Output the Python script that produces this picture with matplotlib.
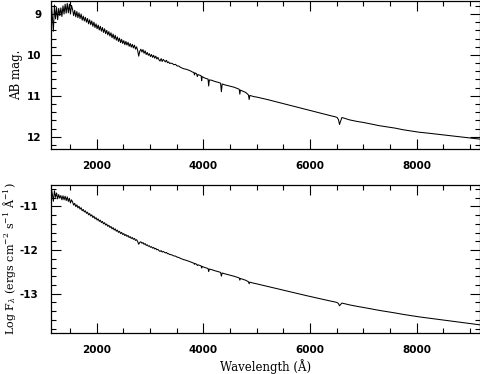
import numpy as np
import matplotlib
matplotlib.use('Agg')
import matplotlib.pyplot as plt
from matplotlib.ticker import MultipleLocator

plt.rcParams['mathtext.fontset'] = 'dejavuserif'

# noisy blue end, 20 A steps from 1150 to 3390
wave_blue = np.arange(1150, 3400, 20)
mag_blue = [
    8.70, 9.05, 9.42, 8.78, 9.12, 8.84, 9.14, 8.86, 9.04, 8.85,
    9.06, 8.80, 9.00, 8.76, 8.98, 8.74, 8.97, 8.76, 9.00, 8.79,
    8.89, 9.04, 8.91, 9.07, 8.94, 9.09, 8.97, 9.11, 9.00, 9.15,
    9.05, 9.17, 9.08, 9.20, 9.11, 9.24, 9.14, 9.26, 9.17, 9.30,
    9.20, 9.33, 9.24, 9.36, 9.27, 9.39, 9.30, 9.42, 9.33, 9.45,
    9.36, 9.48, 9.40, 9.51, 9.43, 9.54, 9.46, 9.58, 9.49, 9.61,
    9.52, 9.64, 9.56, 9.67, 9.59, 9.70, 9.62, 9.72, 9.65, 9.75,
    9.67, 9.76, 9.69, 9.79, 9.72, 9.81, 9.74, 9.83, 9.76, 9.86,
    9.80, 9.89, 10.03, 9.91, 9.86, 9.93, 9.87, 9.96, 9.90, 9.99,
    9.94, 10.01, 9.97, 10.04, 9.99, 10.06, 10.01, 10.08, 10.03, 10.10,
    10.06, 10.12, 10.15, 10.09, 10.16, 10.11, 10.14, 10.17, 10.13, 10.19,
    10.17, 10.21, 10.20,
]

# redder part with Balmer / He lines
wave_red = [3420, 3450, 3480, 3510, 3540, 3570, 3600, 3640, 3680, 3720,
            3760, 3800, 3825, 3835, 3845, 3875, 3889, 3900, 3940, 3960,
            3970, 3980, 4020, 4060, 4090, 4102, 4114, 4160, 4220, 4280,
            4325, 4340, 4355, 4400, 4460, 4520, 4580, 4640, 4675, 4686,
            4697, 4750, 4800, 4848, 4861, 4874, 4950, 5000, 5100, 5200,
            5350, 5500, 5650, 5800, 5950, 6100, 6250, 6400, 6470, 6510,
            6535, 6555, 6575, 6600, 6650, 6750, 6900, 7000, 7150, 7300,
            7450, 7600, 7750, 7900, 8050, 8200, 8400, 8600, 8800, 9000,
            9200]
mag_red = [10.21, 10.24, 10.23, 10.27, 10.27, 10.30, 10.32, 10.34, 10.35, 10.37,
           10.39, 10.42, 10.43, 10.49, 10.44, 10.46, 10.53, 10.48, 10.50, 10.51,
           10.63, 10.53, 10.56, 10.58, 10.59, 10.76, 10.61, 10.62, 10.65, 10.67,
           10.69, 10.90, 10.71, 10.73, 10.75, 10.77, 10.79, 10.82, 10.84, 10.96,
           10.86, 10.89, 10.92, 10.98, 11.09, 10.99, 11.02, 11.03, 11.06, 11.09,
           11.14, 11.19, 11.24, 11.29, 11.34, 11.39, 11.44, 11.49, 11.51, 11.53,
           11.58, 11.70, 11.62, 11.53, 11.55, 11.59, 11.63, 11.65, 11.69, 11.73,
           11.76, 11.79, 11.83, 11.86, 11.89, 11.91, 11.94, 11.97, 12.00, 12.03,
           12.06]

wave = np.concatenate([wave_blue, wave_red])
mag = np.concatenate([mag_blue, mag_red])

# AB magnitude -> log F_lambda
log_flam = -0.4 * (mag + 48.6) + np.log10(2.998e18) - 2 * np.log10(wave)

fig = plt.figure(figsize=(4.81, 3.74), dpi=100)
ax1 = fig.add_axes([0.106, 0.6016, 0.892, 0.397])
ax2 = fig.add_axes([0.106, 0.1096, 0.892, 0.3957])

tick_font = dict(family='DejaVu Sans', weight='bold', size=7.5)
label_font = dict(family='DejaVu Serif', size=8.5)

for ax, yvals in ((ax1, mag), (ax2, log_flam)):
    ax.plot(wave, yvals, color='black', lw=0.75)
    ax.set_xlim(1145, 9190)
    ax.xaxis.set_minor_locator(MultipleLocator(500))
    ax.yaxis.set_minor_locator(MultipleLocator(0.2))
    ax.tick_params(which='both', direction='in', top=True, right=True, width=0.8)
    ax.tick_params(which='major', length=7)
    ax.tick_params(which='minor', length=3.6)
    ax.tick_params(axis='x', pad=8.8)
    ax.set_xticks([2000, 4000, 6000, 8000])
    ax.set_xticklabels(['2000', '4000', '6000', '8000'], **tick_font)
    for s in ax.spines.values():
        s.set_linewidth(0.9)

ax1.set_ylim(12.3, 8.67)
ax2.set_ylim(-13.9, -10.51)
ax1.tick_params(axis='y', pad=7)
ax2.tick_params(axis='y', pad=9)
ax1.set_yticks([9, 10, 11, 12])
ax1.set_yticklabels(['9', '10', '11', '12'], **tick_font)
ax2.set_yticks([-11, -12, -13])
ax2.set_yticklabels(['-11', '-12', '-13'], **tick_font)

ax1.set_ylabel('AB mag.', **label_font)
ax1.yaxis.set_label_coords(-0.066, 0.5)
ax2.set_ylabel(r'Log F$_\lambda$ (ergs cm$^{-2}$ s$^{-1}$ Å$^{-1}$)',
               family='DejaVu Serif', size=8)
ax2.yaxis.set_label_coords(-0.076, 0.5)
ax2.set_xlabel('Wavelength (Å)', **label_font)
ax2.xaxis.set_label_coords(0.5, -0.178)

fig.savefig('out.png', dpi=100)
